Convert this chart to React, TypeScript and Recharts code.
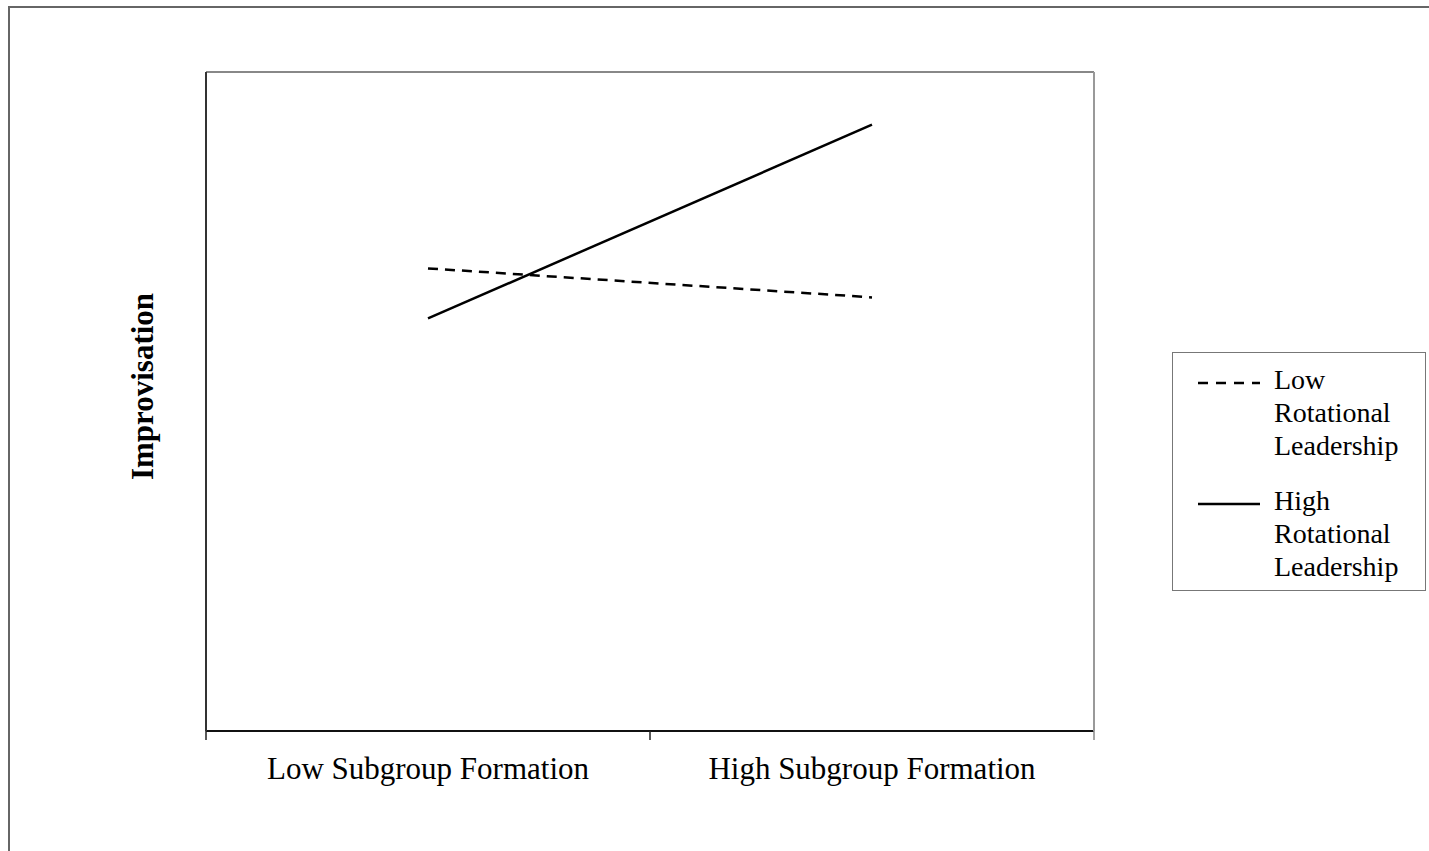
import React from 'react';
import { LineChart, Line, XAxis, YAxis, Legend } from 'recharts';

const categories = ['Low Subgroup Formation', 'High Subgroup Formation'];
const lowRotational = [3.51, 3.29];
const highRotational = [3.13, 4.6];
const seriesNames = ['Low Rotational Leadership', 'High Rotational Leadership'];

const data = categories.map((c, i) => ({
  name: c,
  low: lowRotational[i],
  high: highRotational[i],
}));

const FONT = '"Liberation Serif", "Times New Roman", serif';
const CHART_W = 1418;
const CHART_H = 843;
// plot area: x 196..1084, y 64..723 inside the chart
const MARGIN = { top: 63, right: 333, bottom: 60, left: 195 };
const PLOT_W = CHART_W - MARGIN.left - MARGIN.right - 2;
const BAND = PLOT_W / categories.length;
const TICK_LEN = 9;

const XTick = (props: any) => {
  const { x, y, payload, index } = props;
  const axisY = y - TICK_LEN;
  const last = index === categories.length - 1;
  return (
    <g>
      <line x1={x - BAND / 2} x2={x - BAND / 2} y1={axisY} y2={axisY + TICK_LEN} stroke="#222" strokeWidth={1.5} />
      {last && (
        <line x1={x + BAND / 2} x2={x + BAND / 2} y1={axisY} y2={axisY + TICK_LEN} stroke="#888" strokeWidth={1.5} />
      )}
      <text x={x} y={y + 38.5} textAnchor="middle" fontFamily={FONT} fontSize={31} fill="#000">
        {payload.value}
      </text>
    </g>
  );
};

const YLabel = (props: any) => {
  const { viewBox } = props;
  const cx = viewBox.x + viewBox.width - 53.5;
  const cy = viewBox.y + viewBox.height / 2 - 15;
  return (
    <text
      x={cx}
      y={cy}
      transform={`rotate(-90, ${cx}, ${cy})`}
      textAnchor="middle"
      fontFamily={FONT}
      fontSize={31}
      fontWeight="bold"
      fill="#000"
    >
      Improvisation
    </text>
  );
};

const LegendBox = () => {
  const items = [
    { name: seriesNames[0], dash: '10 8' },
    { name: seriesNames[1], dash: undefined },
  ];
  return (
    <div
      style={{
        width: 254,
        height: 239,
        boxSizing: 'border-box',
        border: '1.5px solid #777',
        background: '#fff',
        paddingTop: 10,
        paddingLeft: 25,
      }}
    >
      {items.map((it, i) => (
        <div key={it.name} style={{ display: 'flex', alignItems: 'flex-start', marginBottom: i === 0 ? 22 : 0 }}>
          <svg width={62} height={40} style={{ flex: 'none' }}>
            <line x1={0} x2={62} y1={20} y2={20} stroke="#000" strokeWidth={2.5} strokeDasharray={it.dash} />
          </svg>
          <div
            style={{
              width: 140,
              marginLeft: 14,
              fontFamily: FONT,
              fontSize: 28,
              lineHeight: '33px',
              color: '#000',
            }}
          >
            {it.name}
          </div>
        </div>
      ))}
    </div>
  );
};

export default function App() {
  return (
    <div style={{ position: 'fixed', left: 0, top: 0, width: 1429, height: 851, overflow: 'hidden', background: '#fff' }}>
      <div
        style={{
          position: 'absolute',
          left: 8,
          top: 6,
          width: 1440,
          height: 860,
          border: '2px solid #666',
          background: '#fff',
        }}
      >
        <LineChart width={CHART_W} height={CHART_H} data={data} margin={MARGIN}>
          <XAxis
            dataKey="name"
            scale="band"
            height={60}
            tickLine={false}
            tickSize={TICK_LEN}
            tickMargin={0}
            tick={<XTick />}
            axisLine={{ stroke: '#111', strokeWidth: 2 }}
            interval={0}
          />
          <XAxis
            xAxisId="top"
            dataKey="name"
            orientation="top"
            scale="band"
            height={1}
            tick={false}
            tickLine={false}
            axisLine={{ stroke: '#888', strokeWidth: 2 }}
          />
          <YAxis
            domain={[0, 5]}
            width={1}
            tick={false}
            tickLine={false}
            axisLine={{ stroke: '#333', strokeWidth: 2 }}
            label={<YLabel />}
          />
          <YAxis
            yAxisId="right"
            orientation="right"
            domain={[0, 5]}
            width={1}
            tick={false}
            tickLine={false}
            axisLine={{ stroke: '#999', strokeWidth: 2 }}
          />
          <Legend
            layout="vertical"
            align="center"
            verticalAlign="middle"
            content={<LegendBox />}
            wrapperStyle={{ left: 1162, top: 344, width: 254, height: 239 }}
          />
          <Line
            dataKey="low"
            name={seriesNames[0]}
            type="linear"
            stroke="#000"
            strokeWidth={2.5}
            strokeDasharray="10 7"
            dot={false}
            isAnimationActive={false}
          />
          <Line
            dataKey="high"
            name={seriesNames[1]}
            type="linear"
            stroke="#000"
            strokeWidth={2.5}
            dot={false}
            isAnimationActive={false}
          />
        </LineChart>
      </div>
    </div>
  );
}
